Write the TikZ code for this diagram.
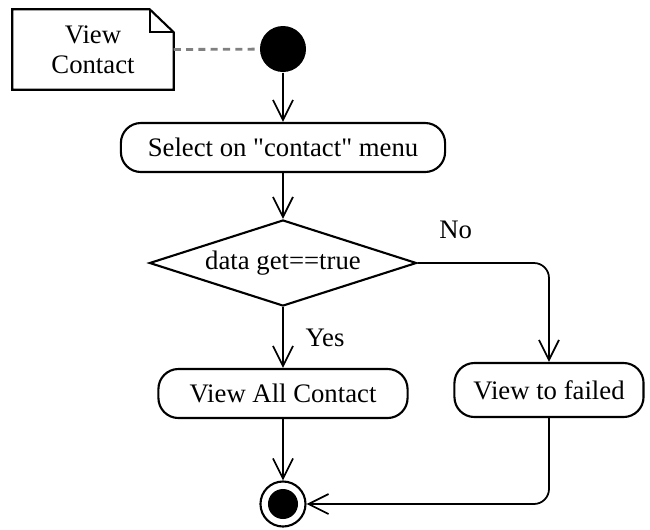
\documentclass[tikz,border=0pt]{standalone}
\usepackage{fontspec}
\setmainfont{Liberation Serif}[Ligatures=TeXOff]
\usetikzlibrary{shapes.geometric,arrows.meta}

\begin{document}
\begin{tikzpicture}[x=0.01cm, y=-0.01cm,
    font=\fontsize{7.6}{8.6}\selectfont,
    activity/.style={draw, line width=0.6pt, rounded corners=0.2cm, fill=white, minimum height=0.49cm, inner sep=0pt},
    decision/.style={draw, diamond, line width=0.6pt, minimum width=2.67cm, minimum height=0.86cm, inner sep=0pt, aspect=3.1},
    flow/.style={line width=0.5pt, -{Straight Barb[length=2mm, width=2mm, line width=0.5pt]}}]

        \useasboundingbox (0,0) rectangle (650,529);

        \def\midx{283}

        \node[circle, fill, minimum size=0.46cm, inner sep=0pt] (start) at (\midx,49) {};
        \node[minimum width=1.6cm, minimum height=0.79cm, align=center, inner sep=0pt] (note) at (93,49.5) {View\\Contact};
        \draw[line width=0.6pt] (note.north west) -- ([xshift=-0.24cm]note.north east) -- ([yshift=-0.23cm]note.north east) -- (note.south east) -- (note.south west) -- cycle;
        \draw[line width=0.6pt] ([xshift=-0.24cm]note.north east) |- ([yshift=-0.23cm]note.north east);
        \draw[gray, line width=0.8pt, dash pattern=on 2pt off 1.5pt] (note.east) -- (start);

        \node[activity, minimum width=3.24cm] (select) at (\midx,147.5) {Select on "contact" menu};
        \node[decision] (check) at (\midx,263) {data get==true};
        \node[activity, minimum width=2.49cm] (viewall) at (\midx,393.5) {View All Contact};
        \node[activity, minimum width=1.89cm, minimum height=0.54cm] (failed) at (549,390) {View to failed};
        \node[circle, draw, line width=0.6pt, minimum size=0.45cm, inner sep=0pt] (end) at (\midx,504) {};
        \fill (end) circle (0.15cm);

        \draw[flow] (start) -- (select);
        \draw[flow] (select) -- (check);
        \draw[flow] (check) -- (viewall) node[midway, right=0.1cm] {Yes};
        \draw[flow, rounded corners=0.15cm] (check.east) -| (failed) node[pos=0.145, above=0.12cm] {No};
        \draw[flow] (viewall) -- (end);
        \draw[flow, rounded corners=0.15cm] (failed) |- (end);

\end{tikzpicture}
\end{document}
